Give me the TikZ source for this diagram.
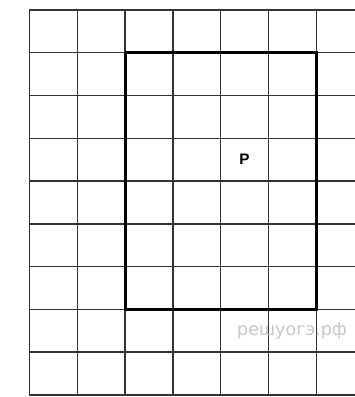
\documentclass[tikz,border=0pt]{standalone}
\usepackage{fontspec}
\setsansfont{Liberation Sans}
\newfontfamily\wmfont{DejaVu Sans}
\usepackage{tikz}

\begin{document}
\begin{tikzpicture}[x=1.434cm,y=1.284cm]
    \useasboundingbox (-0.617,-0.047) rectangle (6.81,9.23);
    \clip (-0.617,-0.047) rectangle (6.81,9.23);

    \draw[black!80, line width=1.2pt, xstep=1.434cm, ystep=1.284cm] (0,0) grid (6.9,9);

    \node[anchor=west, text=black!22, inner sep=0pt] (wm) at (4.34,1.5)
        {\wmfont\fontsize{15}{15}\selectfont решуогэ.рф};

    \draw[line width=2.6pt] (2,2) rectangle (6,8);
    \node (p) at (4.5,5.5) {\sffamily\bfseries\fontsize{13}{13}\selectfont P};
\end{tikzpicture}
\end{document}
